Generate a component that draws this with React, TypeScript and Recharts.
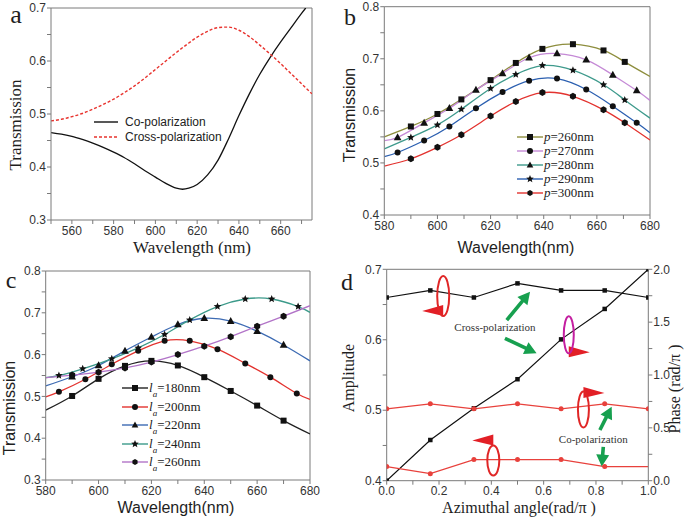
import React from "react"
import { Legend, Line, LineChart, ReferenceDot, ReferenceLine, XAxis, YAxis } from "recharts"

const SANS = "'Liberation Sans', Arial, sans-serif"
const SERIF = "'Liberation Serif', 'Times New Roman', serif"
const AXIS = "#7a7a7a"

// ---- panel a: transmission vs wavelength
const aCoWl = [550, 555, 560, 565, 570, 575, 580, 585, 590, 595, 600, 605, 610, 613, 616, 620, 625, 630, 635, 640, 645, 650, 655, 660, 665, 670, 672]
const aCo = [0.465, 0.462, 0.458, 0.452, 0.445, 0.437, 0.428, 0.418, 0.406, 0.393, 0.381, 0.369, 0.36, 0.358, 0.36, 0.367, 0.385, 0.413, 0.453, 0.497, 0.538, 0.575, 0.607, 0.636, 0.663, 0.69, 0.7]
const aCrossWl = [550, 555, 560, 565, 570, 575, 580, 585, 590, 595, 600, 605, 610, 615, 620, 625, 630, 635, 640, 645, 650, 655, 660, 665, 670, 675]
const aCross = [0.487, 0.49, 0.495, 0.501, 0.509, 0.518, 0.528, 0.54, 0.553, 0.568, 0.584, 0.6, 0.616, 0.631, 0.645, 0.656, 0.663, 0.664, 0.658, 0.646, 0.63, 0.613, 0.595, 0.576, 0.557, 0.538]
const aXTicks = [550, 560, 570, 580, 590, 600, 610, 620, 630, 640, 650, 660, 670]
const aYTicks = [0.3, 0.35, 0.4, 0.45, 0.5, 0.55, 0.6, 0.65, 0.7]

// ---- panel b: period p
const bXA = [580, 590, 600, 609, 620, 629.5, 639.5, 651, 662.5, 670.5, 680]
const bXB = [580, 585, 595, 604.5, 614.5, 624.5, 634.5, 645, 656, 666, 675, 680]
const bP260 = [0.55, 0.57, 0.594, 0.622, 0.659, 0.692, 0.719, 0.728, 0.716, 0.694, 0.666]
const bP270 = [0.543, 0.549, 0.577, 0.605, 0.64, 0.672, 0.702, 0.71, 0.698, 0.669, 0.639, 0.62]
const bP280 = [0.527, 0.549, 0.573, 0.603, 0.643, 0.67, 0.687, 0.678, 0.65, 0.621, 0.586]
const bP290 = [0.512, 0.52, 0.543, 0.57, 0.605, 0.636, 0.658, 0.662, 0.641, 0.609, 0.577, 0.558]
const bP300 = [0.494, 0.508, 0.53, 0.554, 0.59, 0.618, 0.635, 0.628, 0.602, 0.577, 0.544]
const bLabels = ["260", "270", "280", "290", "300"]
const wlTicks = [580, 590, 600, 610, 620, 630, 640, 650, 660, 670, 680]
const bYTicks = [0.4, 0.45, 0.5, 0.55, 0.6, 0.65, 0.7, 0.75, 0.8]

// ---- panel c: antenna length l_a
const cXA = [580, 590, 600, 610, 620, 630, 640, 650, 660, 670, 680]
const cXB = [580, 585, 595, 605, 615, 625, 634.5, 645, 655.5, 665, 675, 680]
const cX240 = [580, 585, 594, 605, 615, 625, 634.5, 645, 655.5, 665.5, 675.5, 680]
const cL180 = [0.467, 0.501, 0.542, 0.573, 0.585, 0.574, 0.546, 0.513, 0.478, 0.442, 0.41]
const cL200 = [0.499, 0.511, 0.541, 0.577, 0.609, 0.633, 0.633, 0.613, 0.579, 0.546, 0.507, 0.493]
const cL220 = [0.525, 0.547, 0.574, 0.609, 0.642, 0.672, 0.687, 0.68, 0.656, 0.623, 0.585]
const cL240 = [0.545, 0.55, 0.566, 0.59, 0.616, 0.648, 0.683, 0.715, 0.733, 0.733, 0.715, 0.701]
const cL260 = [0.545, 0.551, 0.558, 0.568, 0.582, 0.6, 0.62, 0.643, 0.668, 0.692, 0.717]
const cLabels = ["180", "200", "220", "240", "260"]
const cYTicks = [0.3, 0.35, 0.4, 0.45, 0.5, 0.55, 0.6, 0.65, 0.7, 0.75, 0.8]

// ---- panel d: amplitude / phase vs azimuthal angle
const dAngle = [0, 0.1667, 0.3333, 0.5, 0.6667, 0.8333, 1]
const dCrossAmp = [0.66, 0.67, 0.66, 0.68, 0.67, 0.67, 0.66]
const dCrossPhase = [0, 0.385, 0.685, 0.96, 1.337, 1.625, 2.0]
const dCoPhase = [0.68, 0.727, 0.68, 0.727, 0.68, 0.727, 0.68]
const dCoAmp = [0.42, 0.41, 0.43, 0.43, 0.43, 0.42, 0.42]
const dXTicks = [0, 0.1, 0.2, 0.3, 0.4, 0.5, 0.6, 0.7, 0.8, 0.9, 1]
const dLeftTicks = [0.4, 0.45, 0.5, 0.55, 0.6, 0.65, 0.7]
const dRightTicks = [0, 0.25, 0.5, 0.75, 1, 1.25, 1.5, 1.75, 2]

const points = (xs: number[], ys: number[], plain: number[] = []) =>
  xs.map((x, i) => ({ x, y: ys[i], mark: !plain.includes(i) }))
const ends = (xs: number[]) => [0, xs.length - 1]

const every20 = (v: number) => (v % 20 === 0 ? String(v) : "")
const tenths = (v: number) => (Math.abs(v * 10 - Math.round(v * 10)) < 1e-6 ? v.toFixed(1) : "")
const fifths = (v: number) => (Math.round(v * 10) % 2 === 0 ? v.toFixed(1) : "")
const halves = (v: number) => (Math.round(v * 4) % 2 === 0 ? v.toFixed(1) : "")

const tickStyle = { fill: "#333", fontSize: 12, fontFamily: SANS }

type Kind = "square" | "circle" | "triangle" | "star" | "hex"

function Marker({ kind, cx, cy, size, color = "#111" }: { kind: Kind; cx: number; cy: number; size: number; color?: string }) {
  const s = size
  if (kind === "square") return <rect x={cx - s / 2} y={cy - s / 2} width={s} height={s} fill={color} />
  if (kind === "circle") return <circle cx={cx} cy={cy} r={s / 2} fill={color} />
  if (kind === "triangle")
    return <polygon points={`${cx},${cy - s * 0.6} ${cx - s * 0.55},${cy + s * 0.4} ${cx + s * 0.55},${cy + s * 0.4}`} fill={color} />
  const n = kind === "star" ? 10 : 6
  const pts: string[] = []
  for (let i = 0; i < n; i++) {
    const r = kind === "star" ? (i % 2 === 0 ? s / 2 : s / 4.5) : s / 2
    const a = -Math.PI / 2 + (i * 2 * Math.PI) / n
    pts.push(`${cx + r * Math.cos(a)},${cy + r * Math.sin(a)}`)
  }
  return <polygon points={pts.join(" ")} fill={color} />
}

const dotFor = (kind: Kind, size: number, color = "#111") => (p: any) => {
  const { cx, cy, payload, index } = p
  if (!payload || !payload.mark || cx == null || cy == null) return <g key={`n${index}`} />
  return <Marker key={`m${index}`} kind={kind} cx={cx} cy={cy} size={size} color={color} />
}

type Row = { color: string; kind?: Kind; dash?: string; label: React.ReactNode }

function LegendRows({ rows, rowHeight, lineWidth, gap, font, size }: { rows: Row[]; rowHeight: number; lineWidth: number; gap: number; font: string; size: number }) {
  return (
    <div style={{ fontFamily: font, fontSize: size, color: "#222" }}>
      {rows.map((r, i) => (
        <div key={i} style={{ display: "flex", alignItems: "center", height: rowHeight, whiteSpace: "nowrap" }}>
          <svg width={lineWidth} height={10} style={{ flex: "none" }}>
            <line x1={0} y1={5} x2={lineWidth} y2={5} stroke={r.color} strokeWidth={1.4} strokeDasharray={r.dash} />
            {r.kind && <Marker kind={r.kind} cx={lineWidth / 2} cy={5} size={r.kind === "star" ? 8 : 6} />}
          </svg>
          <span style={{ marginLeft: gap }}>{r.label}</span>
        </div>
      ))}
    </div>
  )
}

function Title({ x, y, size, family, rotate, children }: { x: number; y: number; size: number; family: string; rotate?: boolean; children: React.ReactNode }) {
  return (
    <div
      style={{
        position: "absolute",
        left: x,
        top: y,
        transform: `translate(-50%, -50%)${rotate ? " rotate(-90deg)" : ""}`,
        fontSize: size,
        fontFamily: family,
        whiteSpace: "nowrap",
        lineHeight: 1,
        color: "#1e1e1e",
      }}
    >
      {children}
    </div>
  )
}

const bColors = ["#8e8e3e", "#c58ad6", "#3e9a8c", "#2b5fb0", "#e3332f"]
const cColors = ["#222222", "#e3332f", "#3d6bb3", "#3c9a8a", "#b274c8"]

const loopShape = (ring: string, rx: number, ry: number, flagDy: number, dir: number) => (p: any) => {
  const { cx, cy } = p
  const by = cy + flagDy
  return (
    <g>
      <polygon points={`${cx},${by - 5.5} ${cx},${by + 5.5} ${cx + dir * 21},${by + 0.5}`} fill="#e21f26" />
      <ellipse cx={cx} cy={cy} rx={rx} ry={ry} fill="none" stroke={ring} strokeWidth={2} />
    </g>
  )
}

const greenArrow = (p: any) => {
  const { x1, y1, x2, y2 } = p
  const len = Math.hypot(x2 - x1, y2 - y1)
  const c = (x2 - x1) / len
  const s = (y2 - y1) / len
  const head = 12
  const hw = 6.5
  const sw = 1.8
  const local = [[0, -sw], [len - head, -sw], [len - head, -hw], [len, 0], [len - head, hw], [len - head, sw], [0, sw]]
  const pts = local.map(([u, v]) => `${x1 + u * c - v * s},${y1 + u * s + v * c}`).join(" ")
  return <polygon points={pts} fill="#17a04f" />
}

const note = (text: string) => (p: any) => (
  <text x={p.cx} y={p.cy} textAnchor="middle" dominantBaseline="central" fontFamily={SERIF} fontSize={11} fill="#333">
    {text}
  </text>
)

export default function App() {
  const bX = [bXA, bXB, bXA, bXB, bXA]
  const bY = [bP260, bP270, bP280, bP290, bP300]
  const bKinds: Kind[] = ["square", "triangle", "star", "circle", "hex"]
  const bLegendKinds: Kind[] = ["square", "circle", "triangle", "star", "hex"]
  const bSizes = [6, 7, 8, 6, 7]

  const cX = [cXA, cXB, cXA, cX240, cXA]
  const cY = [cL180, cL200, cL220, cL240, cL260]
  const cKinds: Kind[] = ["square", "circle", "triangle", "star", "hex"]
  const cSizes = [6, 6, 7, 8, 7]

  return (
    <div style={{ position: "absolute", left: 0, top: 0, width: 685, height: 521, background: "#fff", overflow: "hidden" }}>
      {/* a */}
      <div style={{ position: "absolute", left: 0, top: 0 }}>
        <LineChart width={340} height={260} margin={{ top: 8, right: 28, bottom: 0, left: 11 }}>
          <XAxis type="number" dataKey="x" domain={[550, 675]} ticks={aXTicks} interval={0} tickFormatter={every20} height={40} stroke={AXIS} tick={tickStyle} tickSize={4} tickMargin={2} allowDataOverflow />
          <YAxis type="number" domain={[0.3, 0.7]} ticks={aYTicks} interval={0} tickFormatter={tenths} width={40} stroke={AXIS} tick={tickStyle} tickSize={4} tickMargin={1} allowDataOverflow />
          <ReferenceLine x={675} stroke={AXIS} />
          <ReferenceLine y={0.7} stroke={AXIS} />
          <Line data={points(aCoWl, aCo)} dataKey="y" name="Co-polarization" type="monotone" stroke="#111" strokeWidth={1.3} dot={false} activeDot={false} isAnimationActive={false} />
          <Line data={points(aCrossWl, aCross)} dataKey="y" name="Cross-polarization" type="monotone" stroke="#e8332e" strokeWidth={1.4} strokeDasharray="3 2" dot={false} activeDot={false} isAnimationActive={false} />
          <Legend
            layout="vertical"
            align="center"
            verticalAlign="middle"
            wrapperStyle={{ left: 94, top: 114.5 }}
            content={() => (
              <LegendRows
                rows={[
                  { color: "#111", label: "Co-polarization" },
                  { color: "#e8332e", dash: "3 2", label: "Cross-polarization" },
                ]}
                rowHeight={15}
                lineWidth={24}
                gap={7}
                font={SANS}
                size={12}
              />
            )}
          />
        </LineChart>
      </div>

      {/* b */}
      <div style={{ position: "absolute", left: 340, top: 0 }}>
        <LineChart width={345} height={260} margin={{ top: 6.7, right: 35, bottom: 5, left: 6.3 }}>
          <XAxis type="number" dataKey="x" domain={[580, 680]} ticks={wlTicks} interval={0} tickFormatter={every20} height={40} stroke={AXIS} tick={tickStyle} tickSize={4} tickMargin={2} allowDataOverflow />
          <YAxis type="number" domain={[0.4, 0.8]} ticks={bYTicks} interval={0} tickFormatter={tenths} width={38} stroke={AXIS} tick={tickStyle} tickSize={4} tickMargin={1} allowDataOverflow />
          <ReferenceLine x={680} stroke={AXIS} />
          <ReferenceLine y={0.8} stroke={AXIS} />
          {bLabels.map((lab, i) => (
            <Line
              key={lab}
              data={points(bX[i], bY[i], ends(bX[i]))}
              dataKey="y"
              name={`p=${lab}nm`}
              type="natural"
              stroke={bColors[i]}
              strokeWidth={1.3}
              dot={dotFor(bKinds[i], bSizes[i])}
              activeDot={false}
              isAnimationActive={false}
            />
          ))}
          <Legend
            layout="vertical"
            align="center"
            verticalAlign="middle"
            wrapperStyle={{ left: 177, top: 130 }}
            content={() => (
              <LegendRows
                rows={bLabels.map((lab, i) => ({
                  color: bColors[i],
                  kind: bLegendKinds[i],
                  label: (
                    <>
                      <i>p</i>={lab}nm
                    </>
                  ),
                }))}
                rowHeight={14}
                lineWidth={26}
                gap={1}
                font={SERIF}
                size={13}
              />
            )}
          />
        </LineChart>
      </div>

      {/* c */}
      <div style={{ position: "absolute", left: 0, top: 260 }}>
        <LineChart width={340} height={261} margin={{ top: 11, right: 30, bottom: 1, left: 5.7 }}>
          <XAxis type="number" dataKey="x" domain={[580, 680]} ticks={wlTicks} interval={0} tickFormatter={every20} height={40} stroke={AXIS} tick={tickStyle} tickSize={4} tickMargin={2} allowDataOverflow />
          <YAxis type="number" domain={[0.3, 0.8]} ticks={cYTicks} interval={0} tickFormatter={tenths} width={40} stroke={AXIS} tick={tickStyle} tickSize={4} tickMargin={1} allowDataOverflow />
          <ReferenceLine x={680} stroke={AXIS} />
          <ReferenceLine y={0.8} stroke={AXIS} />
          {cLabels.map((lab, i) => (
            <Line
              key={lab}
              data={points(cX[i], cY[i], ends(cX[i]))}
              dataKey="y"
              name={`la=${lab}nm`}
              type="natural"
              stroke={cColors[i]}
              strokeWidth={1.3}
              dot={dotFor(cKinds[i], cSizes[i])}
              activeDot={false}
              isAnimationActive={false}
            />
          ))}
          <Legend
            layout="vertical"
            align="center"
            verticalAlign="middle"
            wrapperStyle={{ left: 122, top: 119 }}
            content={() => (
              <LegendRows
                rows={cLabels.map((lab, i) => ({
                  color: cColors[i],
                  kind: cKinds[i],
                  label: (
                    <>
                      <i>l</i>
                      <i style={{ fontSize: 9, position: "relative", top: 5 }}>a</i>={lab}nm
                    </>
                  ),
                }))}
                rowHeight={18.5}
                lineWidth={26}
                gap={1}
                font={SERIF}
                size={13}
              />
            )}
          />
        </LineChart>
      </div>

      {/* d */}
      <div style={{ position: "absolute", left: 340, top: 260 }}>
        <LineChart width={345} height={261} margin={{ top: 9.3, right: 6.7, bottom: 0.3, left: 6.7 }}>
          <XAxis type="number" dataKey="x" domain={[0, 1]} ticks={dXTicks} interval={0} tickFormatter={fifths} height={40} stroke={AXIS} tick={tickStyle} tickSize={4} tickMargin={2} allowDataOverflow />
          <YAxis yAxisId="left" type="number" domain={[0.4, 0.7]} ticks={dLeftTicks} interval={0} tickFormatter={tenths} width={40} stroke={AXIS} tick={tickStyle} tickSize={4} tickMargin={1} allowDataOverflow />
          <YAxis yAxisId="right" orientation="right" type="number" domain={[0, 2]} ticks={dRightTicks} interval={0} tickFormatter={halves} width={30} stroke={AXIS} tick={tickStyle} tickSize={4} tickMargin={1} allowDataOverflow />
          <ReferenceLine yAxisId="left" y={0.7} stroke={AXIS} />
          <Line yAxisId="left" data={points(dAngle, dCrossAmp)} dataKey="y" name="Cross amplitude" type="linear" stroke="#111" strokeWidth={1.2} dot={dotFor("square", 4.5)} activeDot={false} isAnimationActive={false} />
          <Line yAxisId="right" data={points(dAngle, dCrossPhase)} dataKey="y" name="Cross phase" type="linear" stroke="#111" strokeWidth={1.2} dot={dotFor("square", 4.5)} activeDot={false} isAnimationActive={false} />
          <Line yAxisId="right" data={points(dAngle, dCoPhase)} dataKey="y" name="Co phase" type="linear" stroke="#e8413c" strokeWidth={1.2} dot={dotFor("circle", 5, "#e8413c")} activeDot={false} isAnimationActive={false} />
          <Line yAxisId="left" data={points(dAngle, dCoAmp, [6])} dataKey="y" name="Co amplitude" type="linear" stroke="#e8413c" strokeWidth={1.2} dot={dotFor("circle", 5, "#e8413c")} activeDot={false} isAnimationActive={false} />

          <ReferenceLine yAxisId="left" ifOverflow="visible" segment={[{ x: 0.459, y: 0.628 }, { x: 0.548, y: 0.668 }]} shape={greenArrow} />
          <ReferenceLine yAxisId="left" ifOverflow="visible" segment={[{ x: 0.452, y: 0.602 }, { x: 0.573, y: 0.581 }]} shape={greenArrow} />
          <ReferenceLine yAxisId="left" ifOverflow="visible" segment={[{ x: 0.815, y: 0.472 }, { x: 0.86, y: 0.505 }]} shape={greenArrow} />
          <ReferenceLine yAxisId="left" ifOverflow="visible" segment={[{ x: 0.828, y: 0.448 }, { x: 0.822, y: 0.42 }]} shape={greenArrow} />

          <ReferenceDot yAxisId="left" ifOverflow="visible" x={0.216} y={0.662} r={0} shape={loopShape("#e02626", 6, 20, 14.5, -1)} />
          <ReferenceDot yAxisId="left" ifOverflow="visible" x={0.696} y={0.607} r={0} shape={loopShape("#c41ea0", 5, 18.5, 17, 1)} />
          <ReferenceDot yAxisId="left" ifOverflow="visible" x={0.752} y={0.501} r={0} shape={loopShape("#e02626", 5.5, 18, -17, 1)} />
          <ReferenceDot yAxisId="left" ifOverflow="visible" x={0.4075} y={0.4287} r={0} shape={loopShape("#e02626", 6, 15, -20.5, -1)} />

          <ReferenceDot yAxisId="left" ifOverflow="visible" x={0.414} y={0.6186} r={0} shape={note("Cross-polarization")} />
          <ReferenceDot yAxisId="left" ifOverflow="visible" x={0.79} y={0.459} r={0} shape={note("Co-polarization")} />
        </LineChart>
      </div>

      {/* titles */}
      <Title x={16} y={15} size={26} family={SERIF}>a</Title>
      <Title x={350} y={17} size={24} family={SERIF}>b</Title>
      <Title x={11} y={280} size={24} family={SERIF}>c</Title>
      <Title x={347} y={282} size={24} family={SERIF}>d</Title>

      <Title x={15} y={125} size={17} family={SERIF} rotate>Transmission</Title>
      <Title x={192} y={247} size={17} family={SERIF}>Wavelength (nm)</Title>

      <Title x={350} y={115} size={16} family={SANS} rotate>Transmission</Title>
      <Title x={516} y={248} size={16} family={SANS}>Wavelength(nm)</Title>

      <Title x={10} y={408} size={16} family={SANS} rotate>Transmission</Title>
      <Title x={176} y={508} size={16} family={SANS}>Wavelength(nm)</Title>

      <Title x={349} y={378} size={16} family={SERIF} rotate>Amplitude</Title>
      <Title x={675} y={389} size={16} family={SERIF} rotate>Phase (rad/π )</Title>
      <Title x={519} y={508} size={16} family={SERIF}>Azimuthal angle(rad/π )</Title>
    </div>
  )
}
